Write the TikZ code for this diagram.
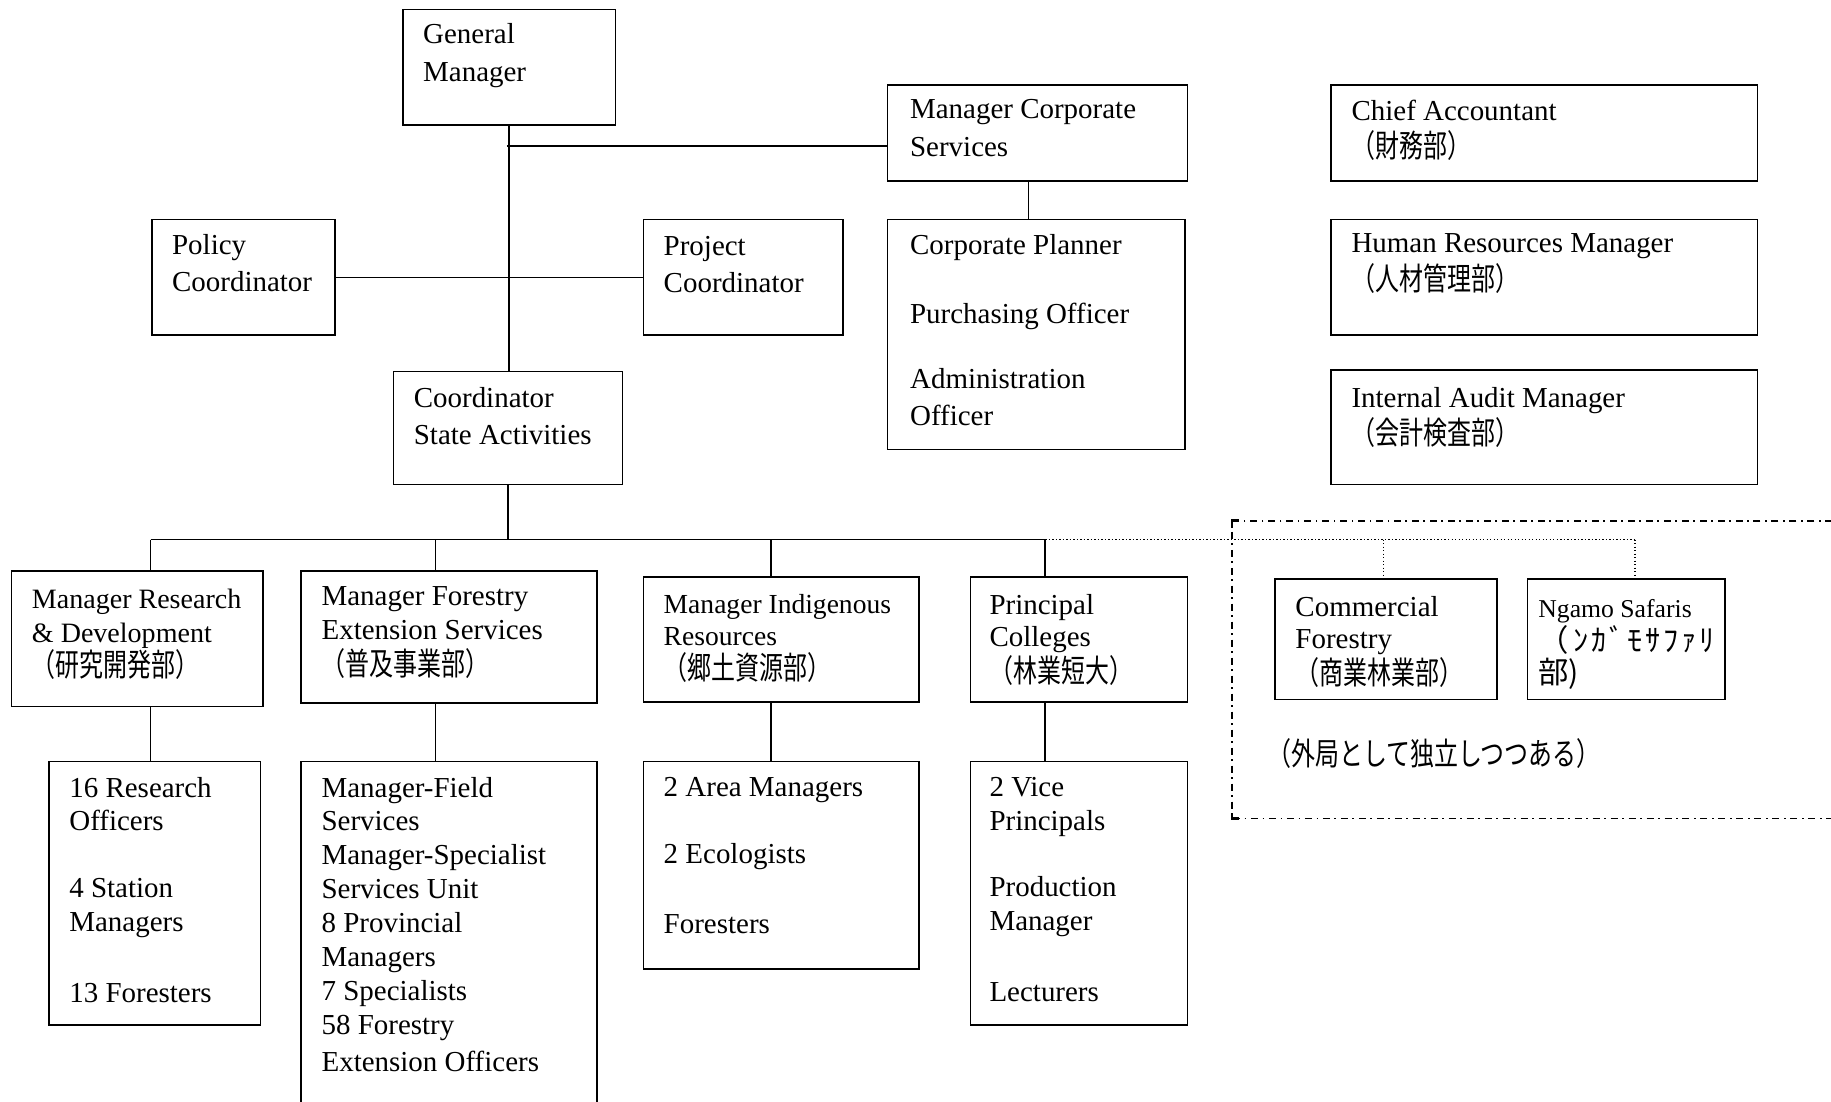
\documentclass[tikz,border=0pt]{standalone}
\usepackage{fontspec}
\setmainfont{Liberation Serif}
\newfontfamily\jp[FakeStretch=0.76]{Noto Sans CJK JP}
\newfontfamily\jpn{Noto Sans CJK JP}
\newcommand\J[1]{{\jp\fontsize{13.5}{16}\selectfont #1}}
\usetikzlibrary{calc}
\tikzset{
  box/.style={draw, line width=0.7pt, inner sep=0pt, outer sep=0pt, anchor=north west},
  txt/.style={anchor=north west, inner sep=0pt, align=left, font=\fontsize{12.4}{16}\selectfont},
  conn/.style={line width=0.7pt},
  dots/.style={line width=0.6pt, dash pattern=on 0.6pt off 0.9pt},
  grp/.style={line width=0.7pt, dash pattern=on 3pt off 2pt on 0.7pt off 2pt},
}
\newcommand\obox[5]{\node[box, minimum width=#4pt, minimum height=#5pt] (#1) at (#2,#3) {};}
\begin{document}
\begin{tikzpicture}[x=0.5pt, y=-0.5pt]
\clip (0,0) rectangle (1568,943);
% boxes
\obox{gm}{345}{8}{91}{49.5}
\obox{mcs}{760}{73}{128.5}{41}
\obox{ca}{1140}{73}{182.5}{41}
\obox{polc}{130}{188}{78.5}{49.5}
\obox{projc}{551}{188}{85.5}{49.5}
\obox{cp}{760}{188}{127.5}{98.5}
\obox{hr}{1140}{188}{182.5}{49.5}
\obox{csa}{337}{318}{98}{48.5}
\obox{ia}{1140}{317}{182.5}{49}
\obox{rd}{10}{489}{107.5}{58}
\obox{mfes}{258}{489}{126.5}{56.5}
\obox{mir}{551}{494}{118}{53.5}
\obox{prc}{831}{494}{93}{53.5}
\obox{cf}{1092}{496}{95}{51.5}
\obox{ns}{1308}{496}{84.5}{51.5}
\obox{rds}{42}{652}{90.5}{113}
\obox{mfs}{258}{652}{126.5}{148}
\obox{mirs}{551}{652}{118}{89}
\obox{prcs}{831}{652}{93}{113}
% texts
\node[txt] (tgm) at (362,20) {General\\Manager};
\node[txt] (tmcs) at (779,85) {Manager Corporate\\Services};
\node[txt] (tca) at (1157,85) {Chief Accountant\\\J{（財務部）}};
\node[txt] (tpolc) at (147,200) {Policy\\Coordinator};
\node[txt] (tprojc) at (568,202) {Project\\Coordinator};
\node[txt] (tcp) at (779,200) {Corporate Planner\\[13.5pt]Purchasing Officer\\[12pt]Administration\\Officer};
\node[txt] (thr) at (1157,200) {Human Resources Manager\\\J{（人材管理部）}};
\node[txt] (tcsa) at (354,331) {Coordinator\\State Activities};
\node[txt] (tia) at (1157,331) {Internal Audit Manager\\\J{（会計検査部）}};
\node[txt, font=\fontsize{12}{14.5}\selectfont] (trd) at (27,504) {Manager Research\\\& Development\\\J{（研究開発部）}};
\node[txt, font=\fontsize{12.4}{14.5}\selectfont] (tmfes) at (275,502) {Manager Forestry\\Extension Services\\[1pt]\J{（普及事業部）}};
\node[txt, font=\fontsize{11.8}{13.5}\selectfont] (tmir) at (568,509) {Manager Indigenous\\Resources\\[1pt]\J{（郷土資源部）}};
\node[txt, font=\fontsize{12.4}{13.5}\selectfont] (tprc) at (847,509) {Principal\\Colleges\\\J{（林業短大）}};
\node[txt, font=\fontsize{12.4}{14}\selectfont] (tcf) at (1109,510) {Commercial\\Forestry\\\J{（商業林業部）}};
\node[txt, font=\fontsize{11}{13.5}\selectfont] (tns) at (1317,513) {Ngamo Safaris\\{\jpn\fontsize{13}{13.5}\selectfont （\hspace{2pt}ﾝ\hspace{1.2pt}ｶ\hspace{1.2pt}ﾞ\hspace{1.2pt}ﾓ\hspace{1.2pt}ｻ\hspace{1.2pt}ﾌ\hspace{1.2pt}ｧ\hspace{1.2pt}ﾘ}\\{\jpn\fontsize{13}{13.5}\selectfont 部)}};
\node[txt, font=\fontsize{12.4}{14.5}\selectfont] (trds) at (59,665) {16 Research\\Officers\\[14pt]4 Station\\Managers\\[16pt]13 Foresters};
\node[txt, font=\fontsize{12.4}{14.5}\selectfont] (tmfs) at (275,665) {Manager-Field\\Services\\Manager-Specialist\\Services Unit\\8 Provincial\\Managers\\7 Specialists\\58 Forestry\\[1.5pt]Extension Officers};
\node[txt, font=\fontsize{12.4}{14.5}\selectfont] (tmirs) at (568,665) {2 Area Managers\\[14.5pt]2 Ecologists\\[15.5pt]Foresters};
\node[txt, font=\fontsize{12.4}{14.5}\selectfont] (tprcs) at (847,665) {2 Vice\\Principals\\[14pt]Production\\Manager\\[16pt]Lecturers};
\node[anchor=west, inner sep=0pt] (note) at (1085,645) {\J{（外局として独立しつつある）}};
% connectors
\coordinate (j1) at (434,125);
\coordinate (d1) at (129,462);
\coordinate (d2) at (373,462);
\coordinate (d3) at (660,462);
\coordinate (d4) at (895,462);
\coordinate (d5) at (1185,462);
\coordinate (d6) at (1400,462);
\draw[conn] (gm.south) -- (gm.south |- csa.north);
\draw[conn] (j1) -- (j1 -| mcs.west);
\draw[conn] (polc.east) -- (projc.west);
\draw[conn] ($(mcs.south west)!0.47!(mcs.south east)$) coordinate (m1) -- (m1 |- cp.north);
\draw[conn] (csa.south) -- (csa.south |- d1);
\draw[conn] (d1) -- (d4);
\draw[conn] (d1) -- (d1 |- rd.north);
\draw[conn] (d2) -- (d2 |- mfes.north);
\draw[conn] (d3) -- (d3 |- mir.north);
\draw[conn] (d4) -- (d4 |- prc.north);
\draw[conn] (d1 |- rd.south) -- (d1 |- rds.north);
\draw[conn] (d2 |- mfes.south) -- (d2 |- mfs.north);
\draw[conn] (d3 |- mir.south) -- (d3 |- mirs.north);
\draw[conn] (d4 |- prc.south) -- (d4 |- prcs.north);
\draw[dots] (d4) -- (d6);
\draw[dots] (d5) -- (d5 |- cf.north);
\draw[dots] (d6) -- (d6 |- ns.north);
% group frame
\coordinate (g1) at (1600,446);
\coordinate (g2) at (1055,446);
\coordinate (g3) at (1055,701);
\coordinate (g4) at (1600,701);
\draw[grp] (g1) -- (g2) -- (g3) -- (g4);
\draw[line width=1.2pt] ($(g2)+(0,6)$) -- (g2) -- ($(g2)+(6,0)$);
\draw[line width=1.2pt] ($(g3)+(0,-4)$) -- (g3) -- ($(g3)+(6,0)$);
\end{tikzpicture}
\end{document}
